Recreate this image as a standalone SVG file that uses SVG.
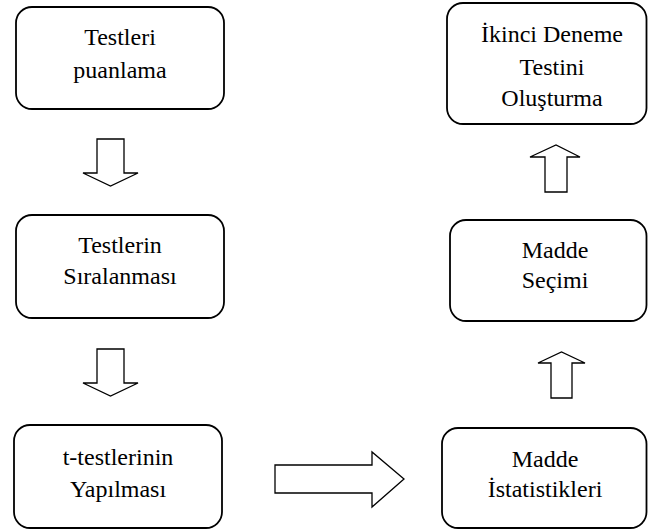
<svg xmlns="http://www.w3.org/2000/svg" width="648" height="530" viewBox="0 0 648 530">
<style>
.box{fill:#fff;stroke:#000;stroke-width:1.8}
.arr{fill:#fff;stroke:#000;stroke-width:1.3;stroke-linejoin:miter}
text{font-family:"Liberation Serif","Times New Roman",serif;font-size:24px;fill:#000;text-anchor:middle}
</style>
<rect width="648" height="530" fill="#fff"/>
<g id="n1"><rect class="box" x="16" y="7" width="208" height="102" rx="16"/><text x="120" y="45">Testleri</text><text x="120" y="78">puanlama</text></g>
<g id="n2"><rect class="box" x="16" y="215" width="208" height="103" rx="16"/><text x="120" y="253">Testlerin</text><text x="120" y="284">Sıralanması</text></g>
<g id="n3"><rect class="box" x="14" y="425" width="208" height="103" rx="16"/><text x="118" y="465">t-testlerinin</text><text x="118" y="497">Yapılması</text></g>
<g id="n4"><rect class="box" x="442" y="428" width="204.5" height="100" rx="16"/><text x="545" y="467">Madde</text><text x="545" y="497">İstatistikleri</text></g>
<g id="n5"><rect class="box" x="450" y="220" width="196.5" height="101" rx="16"/><text x="555" y="258">Madde</text><text x="555" y="288">Seçimi</text></g>
<g id="n6"><rect class="box" x="447" y="3" width="199.5" height="121" rx="16"/><text x="552" y="42">İkinci Deneme</text><text x="552" y="75">Testini</text><text x="552" y="106">Oluşturma</text></g>
<g id="connectors">
<polygon class="arr" points="97,139 124,139 124,173 138,173 110.5,186 83,173 97,173"/>
<polygon class="arr" points="97,349 124,349 124,383 138,383 110.5,396 83,383 97,383"/>
<polygon class="arr" points="275,465 372,465 372,452 404,479 372,507 372,493 275,493"/>
<polygon class="arr" points="551,398 572,398 572,363 585,363 561.5,352 538,363 551,363"/>
<polygon class="arr" points="545,192 567,192 567,157 580,157 556,145 530,157 545,157"/>
</g>
</svg>
